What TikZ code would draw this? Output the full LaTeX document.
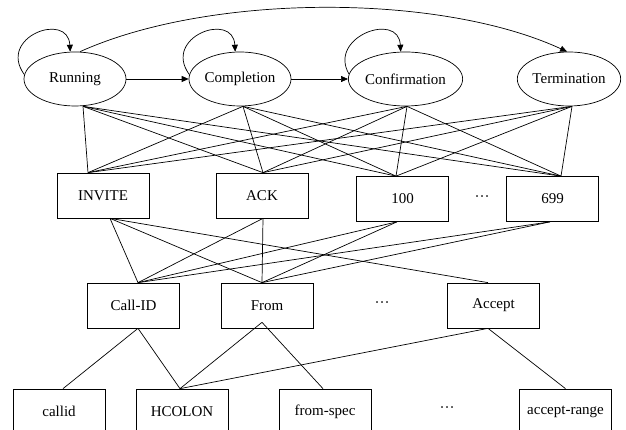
\documentclass[tikz,border=0pt]{standalone}
\usepackage{fontspec}
\setmainfont{Liberation Serif}
\usetikzlibrary{arrows.meta,shapes.geometric}
\begin{document}
\begin{tikzpicture}[x=1pt,y=1pt,
  every node/.style={font=\fontsize{15}{18}\selectfont},
  state/.style={draw, ellipse, line width=0.7pt, minimum width=102pt, minimum height=54pt, inner sep=0pt},
  field/.style={draw, rectangle, line width=0.7pt, minimum width=92pt, minimum height=45pt, inner sep=0pt},
  gap/.style={inner sep=0pt},
  link/.style={line width=0.7pt},
  flow/.style={line width=0.7pt, -{Triangle[length=7pt,width=6pt]}}]
\clip (0,0) rectangle (626,430);

% states
\node[state] (run)  at (75,351)    {Running};
\node[state] (comp) at (240,351)   {Completion};
\node[state] (conf) at (405.5,351) {Confirmation};
\node[state] (term) at (569,351)   {Termination};

% messages
\node[field] (invite) at (103,234.5)   {INVITE};
\node[field] (ack)    at (262,234.5)   {ACK};
\node[field] (n100)   at (402.5,231)   {100};
\node[gap]   (dotsA)  at (482,231)     {\textperiodcentered\textperiodcentered\textperiodcentered};
\node[field] (n699)   at (552.5,231)   {699};

% header fields
\node[field] (cidhdr) at (133.5,124.5) {Call-ID};
\node[field] (from)   at (267,124.5)   {From};
\node[gap]   (dotsB)  at (382,125)     {\textperiodcentered\textperiodcentered\textperiodcentered};
\node[field] (accept) at (493.5,124.5) {Accept};

% grammar elements
\node[field] (cidval)  at (59,18.5)    {callid};
\node[field] (hcolon)  at (182,18.5)   {HCOLON};
\node[field] (fspec)   at (325,18.5)   {from-spec};
\node[gap]   (dotsC)   at (447,20)     {\textperiodcentered\textperiodcentered\textperiodcentered};
\node[field] (arange)  at (565.5,18.5) {accept-range};

% ports where the links meet the shapes
\coordinate (run-b)  at ([xshift=8pt]run.south);
\coordinate (comp-b) at ([xshift=3pt]comp.south);
\coordinate (conf-b) at ([xshift=1.5pt]conf.south);
\coordinate (term-b) at ([xshift=3pt]term.south);

\coordinate (invite-t) at ([xshift=-15pt]invite.north);
\coordinate (ack-t)    at ([xshift=1pt]ack.north);
\coordinate (n100-t)   at ([xshift=-6.5pt]n100.north);
\coordinate (n699-t)   at ([xshift=8.5pt]n699.north);

\coordinate (invite-b) at ([xshift=7pt]invite.south);
\coordinate (ack-b)    at ([xshift=1pt]ack.south);
\coordinate (n100-b)   at ([xshift=-5.5pt]n100.south);
\coordinate (n699-b)   at ([xshift=-2.5pt]n699.south);

\coordinate (cidhdr-t) at ([xshift=4.5pt]cidhdr.north);
\coordinate (from-t)   at ([xshift=-5pt]from.north);
\coordinate (accept-t) at ([xshift=-5.5pt]accept.north);

\coordinate (cidhdr-b) at ([xshift=4.5pt]cidhdr.south);
\coordinate (from-b)   at ([xshift=-5pt,yshift=6pt]from.south);
\coordinate (accept-b) at ([xshift=-5.5pt]accept.south);

\coordinate (cidval-t) at ([xshift=4pt]cidval.north);
\coordinate (hcolon-t) at ([xshift=-2pt]hcolon.north);
\coordinate (fspec-t)  at ([xshift=-2pt]fspec.north);
\coordinate (arange-t) at (arange.north);

% state transitions
\draw[flow] (run.east) -- (comp.west);
\draw[flow] (comp.east) -- (conf.west);
\draw[flow] (run.80) .. controls (210,437) and (440,437) .. (term.94);
\foreach \s in {run,comp,conf}
  \draw[flow] (\s.175) .. controls ([shift={(-78,42)}]\s.center) and ([shift={(-7,68)}]\s.center) .. (\s.100);

% states to messages
\foreach \s in {run,comp,conf,term}
  \foreach \m in {invite,ack,n100,n699}
    \draw[link] (\s-b) -- (\m-t);

% messages to header fields
\draw[link] (invite-b) -- (cidhdr-t);
\draw[link] (invite-b) -- (from-t);
\draw[link] (invite-b) -- (accept-t);
\foreach \m in {ack,n100,n699} {
  \draw[link] (\m-b) -- (cidhdr-t);
  \draw[link] (\m-b) -- (from-t);
}

% header fields to grammar elements
\draw[link] (cidhdr-b) -- (cidval-t);
\draw[link] (cidhdr-b) -- (hcolon-t);
\draw[link] (from-b) -- (hcolon-t);
\draw[link] (from-b) -- (fspec-t);
\draw[link] (accept-b) -- (hcolon-t);
\draw[link] (accept-b) -- (arange-t);
\end{tikzpicture}
\end{document}
